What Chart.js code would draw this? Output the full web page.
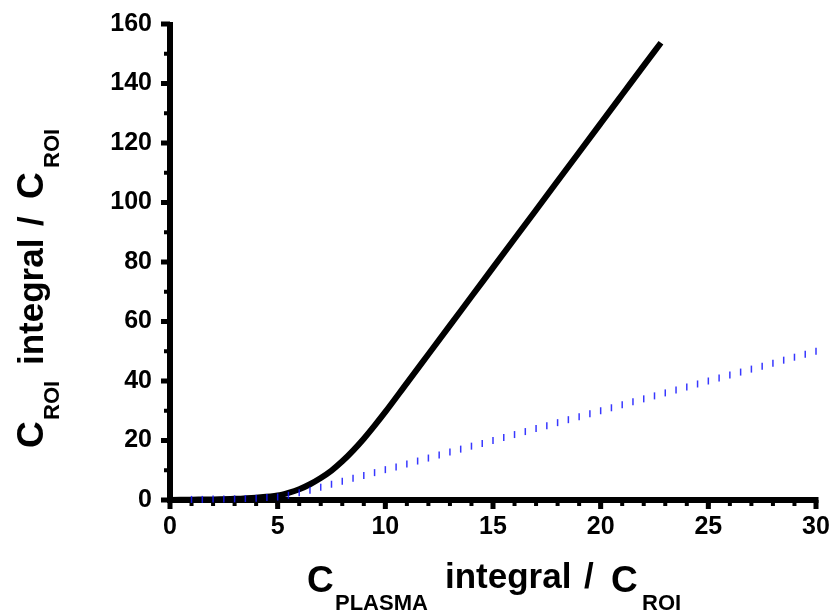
<!DOCTYPE html>
<html>
<head>
<meta charset="utf-8">
<script src="https://cdn.jsdelivr.net/npm/chart.js@4.4.1/dist/chart.umd.min.js"></script>
<style>
  html, body { margin: 0; padding: 0; background: #fff; }
  #wrap { width: 833px; height: 613px; position: relative; }
</style>
</head>
<body>
<div id="wrap"><canvas id="curve-chart"></canvas></div>
<script>
// ROI curve (solid black)
const roiX = [0, 1, 2, 3, 4, 5, 5.5, 6, 6.5, 7, 7.5, 8, 8.5, 9, 9.5, 10, 11, 12, 13, 14, 15, 16, 17, 18, 19, 20, 21, 22, 22.8];
const roiY = [0, 0.1, 0.2, 0.4, 0.8, 1.5, 2.4, 3.6, 5.3, 7.4, 9.9, 13.0, 16.6, 20.6, 25.0, 29.6, 39.3, 49.0, 58.7, 68.4, 78.1, 87.8, 97.5, 107.2, 116.9, 126.6, 136.3, 146.0, 153.7];

// reference line (blue dotted)
const refX = [1, 1.5, 2, 2.5, 3, 3.5, 4, 4.5, 5, 5.5, 6, 6.5, 7, 7.5, 8, 8.5, 9, 9.5, 10,
  10.5, 11, 11.5, 12, 12.5, 13, 13.5, 14, 14.5, 15, 15.5, 16, 16.5, 17, 17.5, 18, 18.5, 19, 19.5, 20,
  20.5, 21, 21.5, 22, 22.5, 23, 23.5, 24, 24.5, 25, 25.5, 26, 26.5, 27, 27.5, 28, 28.5, 29, 29.5, 30];
const refY = [0.2, 0.2, 0.3, 0.3, 0.4, 0.5, 0.6, 0.8, 1.0, 1.6, 2.4, 3.3, 4.3, 5.3, 6.3, 7.3, 8.2, 9.2, 10.2,
  11.1, 12.1, 13.1, 14.1, 15.1, 16.1, 17.1, 18.1, 19.0, 20.0, 21.0, 22.0, 23.0, 24.0, 25.0, 26.0, 27.0, 28.0, 29.0, 30.0,
  31.0, 32.0, 33.0, 34.0, 35.0, 36.0, 37.0, 38.0, 39.0, 40.0, 41.0, 42.0, 43.0, 44.0, 45.0, 46.0, 47.0, 48.0, 49.0, 50.0];

const xTicks = [0, 5, 10, 15, 20, 25, 30];
const yTicks = [0, 20, 40, 60, 80, 100, 120, 140, 160];
const xMinorStep = 1;
const yMinorStep = 10;

// title pieces: text, kind, offset along the title
const xTitle = [['C', 'big', 0], ['PLASMA', 'sub', 28], ['integral', 'main', 138], ['/', 'main', 277], ['C', 'big', 304], ['ROI', 'sub', 335]];
const yTitle = [['C', 'big', 0], ['ROI', 'sub', 28], ['integral', 'main', 83], ['/', 'main', 222], ['C', 'big', 249], ['ROI', 'sub', 280]];

const FONT = '"Liberation Sans", Arial, sans-serif';

function toPoints(xs, ys) {
    return xs.map((x, i) => ({ x: x, y: ys[i] }));
}

// axis lines with major/minor ticks, drawn under the data
const axesPlugin = {
    id: 'axes',
    beforeDatasetsDraw(chart) {
        const ctx = chart.ctx;
        const xs = chart.scales.x, ys = chart.scales.y;
        const x0 = xs.getPixelForValue(xs.min), x1 = xs.getPixelForValue(xs.max);
        const y0 = ys.getPixelForValue(ys.min), y1 = ys.getPixelForValue(ys.max);
        ctx.save();
        ctx.strokeStyle = '#000';
        ctx.lineCap = 'butt';
        // minor ticks
        ctx.lineWidth = 4;
        ctx.beginPath();
        for (let v = xs.min; v <= xs.max + 1e-9; v += xMinorStep) {
            const px = xs.getPixelForValue(v);
            ctx.moveTo(px, y0); ctx.lineTo(px, y0 + 6);
        }
        for (let v = ys.min; v <= ys.max + 1e-9; v += yMinorStep) {
            const py = ys.getPixelForValue(v);
            ctx.moveTo(x0, py); ctx.lineTo(x0 - 6, py);
        }
        ctx.stroke();
        // major ticks
        ctx.lineWidth = 5;
        ctx.beginPath();
        xTicks.forEach(v => {
            const px = xs.getPixelForValue(v);
            ctx.moveTo(px, y0); ctx.lineTo(px, y0 + 9);
        });
        yTicks.forEach(v => {
            const py = ys.getPixelForValue(v);
            ctx.moveTo(x0, py); ctx.lineTo(x0 - 9, py);
        });
        ctx.stroke();
        // axis lines
        ctx.lineWidth = 6;
        ctx.beginPath();
        ctx.moveTo(x0 - 1, y0); ctx.lineTo(x1 + 2.5, y0);
        ctx.moveTo(x0, y0 + 3); ctx.lineTo(x0, y1 - 2);
        ctx.stroke();
        ctx.restore();
    }
};

function drawTitle(ctx, parts, dys) {
    const sizes = { big: 37, main: 35, sub: 22 };
    parts.forEach(p => {
        ctx.font = 'bold ' + sizes[p[1]] + 'px ' + FONT;
        ctx.fillText(p[0], p[2], dys[p[1]]);
    });
}

const titlePlugin = {
    id: 'titles',
    afterDraw(chart) {
        const ctx = chart.ctx;
        ctx.save();
        ctx.fillStyle = '#000';
        ctx.textBaseline = 'alphabetic';
        ctx.textAlign = 'left';
        ctx.save();
        ctx.translate(307, 588);
        drawTitle(ctx, xTitle, { big: 4, main: 0, sub: 22 });
        ctx.restore();
        ctx.save();
        ctx.translate(43, 448);
        ctx.rotate(-Math.PI / 2);
        drawTitle(ctx, yTitle, { big: 0, main: 0, sub: 16 });
        ctx.restore();
        ctx.restore();
    }
};

function noPad(s) {
    s.paddingTop = 0; s.paddingBottom = 0; s.paddingLeft = 0; s.paddingRight = 0;
}

const ctx = document.getElementById('curve-chart').getContext('2d');
const chart = new Chart(ctx, {
    type: 'scatter',
    data: {
        datasets: [{
            data: toPoints(roiX, roiY),
            showLine: true,
            borderColor: '#000',
            borderWidth: 6,
            borderCapStyle: 'butt',
            pointRadius: 0,
            cubicInterpolationMode: 'monotone',
            clip: false,
            order: 2
        }, {
            data: toPoints(refX, refY),
            showLine: false,
            pointStyle: 'line',
            rotation: 90,
            pointRadius: 3.5,
            borderWidth: 1.5,
            borderColor: 'rgba(20, 20, 255, 0.85)',
            backgroundColor: 'rgba(20, 20, 255, 0.85)',
            clip: false,
            order: 1
        }]
    },
    options: {
        responsive: true,
        maintainAspectRatio: false,
        animation: false,
        layout: { padding: { left: 0, right: 17, top: 24, bottom: 0 } },
        plugins: {
            legend: { display: false },
            tooltip: { enabled: false }
        },
        scales: {
            x: {
                type: 'linear',
                min: 0,
                max: 30,
                afterFit: s => { s.height = 113; noPad(s); },
                afterBuildTicks: s => { s.ticks = xTicks.map(v => ({ value: v })); },
                grid: { display: false, drawTicks: false },
                border: { display: false },
                ticks: {
                    padding: 12,
                    color: '#000',
                    font: { family: FONT, weight: 'bold', size: 25 }
                }
            },
            y: {
                type: 'linear',
                min: 0,
                max: 160,
                afterFit: s => { s.width = 170; noPad(s); },
                afterBuildTicks: s => { s.ticks = yTicks.map(v => ({ value: v })); },
                grid: { display: false, drawTicks: false },
                border: { display: false },
                ticks: {
                    padding: 18,
                    color: '#000',
                    font: { family: FONT, weight: 'bold', size: 25 }
                }
            }
        }
    },
    plugins: [axesPlugin, titlePlugin]
});
</script>
</body>
</html>
